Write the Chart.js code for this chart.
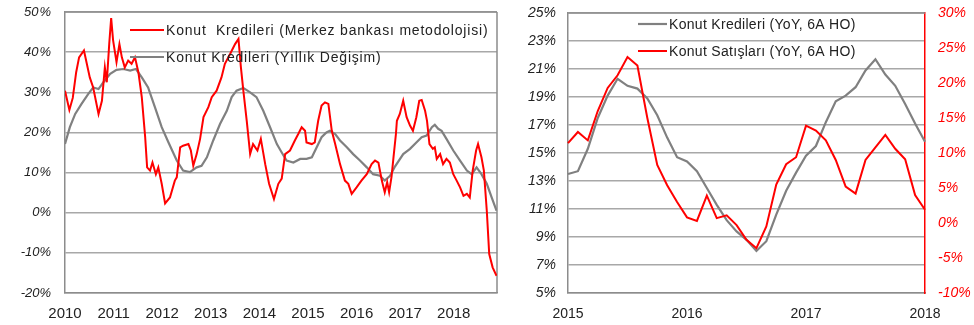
<!DOCTYPE html>
<html>
<head>
<meta charset="utf-8">
<script src="https://cdn.jsdelivr.net/npm/chart.js@4.4.0/dist/chart.umd.min.js"></script>
<style>
  body { margin: 0; background: #fff; }
  #left { position: absolute; left: 0; top: 0; }
  #right { position: absolute; left: 510px; top: 0; }
</style>
</head>
<body>
<canvas id="left" width="510" height="325"></canvas>
<canvas id="right" width="464" height="325"></canvas>
<script>
// left chart: weekly-ish red series and smoother gray series, x in decimal years
var leftYears = [2010, 2011, 2012, 2013, 2014, 2015, 2016, 2017, 2018];
var redDates = [2010.00,2010.09,2010.16,2010.23,2010.29,2010.39,2010.51,2010.58,2010.69,2010.76,
	2010.82,2010.86,2010.91,2010.95,2010.99,2011.06,2011.12,2011.17,2011.23,2011.30,
	2011.37,2011.44,2011.51,2011.58,2011.65,2011.69,2011.75,2011.80,2011.87,2011.92,
	2011.99,2012.06,2012.16,2012.26,2012.30,2012.37,2012.43,2012.54,2012.59,2012.64,
	2012.71,2012.78,2012.85,2012.95,2013.02,2013.12,2013.22,2013.29,2013.40,2013.50,
	2013.57,2013.62,2013.67,2013.74,2013.81,2013.87,2013.96,2014.03,2014.12,2014.20,
	2014.30,2014.39,2014.46,2014.53,2014.63,2014.73,2014.80,2014.87,2014.94,2014.97,
	2015.08,2015.14,2015.21,2015.28,2015.35,2015.42,2015.49,2015.56,2015.66,2015.76,
	2015.83,2015.90,2016.00,2016.10,2016.21,2016.31,2016.38,2016.45,2016.52,2016.58,
	2016.63,2016.67,2016.72,2016.76,2016.81,2016.83,2016.89,2016.96,2017.03,2017.10,
	2017.16,2017.23,2017.29,2017.34,2017.41,2017.45,2017.50,2017.57,2017.61,2017.65,
	2017.72,2017.78,2017.85,2017.92,2017.99,2018.06,2018.13,2018.20,2018.27,2018.33,
	2018.39,2018.46,2018.50,2018.57,2018.62,2018.68,2018.73,2018.80,2018.88];
var redValues = [30.4,25.6,28.6,35,38.7,40.4,33.7,31.2,24.6,27.9,
	36.2,32.5,42,48.5,42.9,37.5,42,38.7,36.2,37.9,
	37.1,38.7,35,28.8,18.8,11.3,10.5,12.5,9.6,11.3,
	7.2,2.3,3.8,8,8.8,16.3,16.7,17.1,15.5,11.7,
	14.6,18.4,23.8,26.3,28.8,30.4,33.7,37.1,39.6,42,
	43.3,36.2,30.4,22.9,14.6,17.1,15.5,18.4,12.1,7.2,
	3.4,7.2,8.5,14.6,15.5,18,19.6,21.3,20.4,17.5,
	17.1,17.5,22.9,26.7,27.5,27.1,20.4,17.1,12.1,8,
	7.2,4.7,6.3,8,9.6,12.1,13,12.5,8,5.1,
	7.6,5.1,9,13.8,19.6,22.9,24.6,27.9,23.8,21.7,
	20.4,23.8,27.9,28.1,25.4,22.9,17.1,15.9,16.3,13.4,
	14.6,12.1,13.4,12.5,9.6,8,6.3,4.2,4.7,3.8,
	10.5,15.5,17.1,13.8,10.5,0.5,-10.3,-13.6,-15.7];
var grayDates = [2010.00,2010.10,2010.21,2010.34,2010.48,2010.58,2010.69,2010.79,2010.93,2011.06,
	2011.20,2011.34,2011.46,2011.58,2011.71,2011.85,2011.99,2012.13,2012.30,2012.43,
	2012.57,2012.71,2012.81,2012.92,2013.05,2013.19,2013.33,2013.43,2013.53,2013.67,
	2013.81,2013.94,2014.08,2014.22,2014.36,2014.46,2014.56,2014.70,2014.84,2014.97,
	2015.08,2015.18,2015.28,2015.38,2015.45,2015.56,2015.66,2015.80,2015.93,2016.07,
	2016.21,2016.34,2016.48,2016.58,2016.69,2016.79,2016.96,2017.10,2017.23,2017.34,
	2017.44,2017.55,2017.61,2017.68,2017.75,2017.85,2017.99,2018.13,2018.27,2018.37,
	2018.47,2018.57,2018.68,2018.78,2018.88];
var grayValues = [17.1,21.3,24.6,27.1,29.6,31.2,30.8,32.5,34.6,35.6,
	35.8,35.4,35.8,33.7,31.2,26.3,21.3,17.5,13,10.5,
	10.1,11.3,11.7,13.8,18,22.1,25.4,28.8,30.4,31.1,
	30,28.8,25.4,21.3,17.1,15,13,12.5,13.4,13.4,
	13.8,16.3,18.8,20,20.4,19.6,18,16.3,14.6,13,
	11.3,9.6,9.2,8,9.2,11.5,14.6,15.9,17.5,18.8,
	19.2,21.3,21.9,20.9,20.4,18.4,15.5,13,10.5,9.6,
	11.3,9.6,7.2,3.8,0.5];

// right chart: monthly, Jan 2015 - Jan 2018
var rightYears = ['2015', '2016', '2017', '2018'];
var kredi6A = [13.5,13.7,15.3,17.5,19.1,20.3,19.8,19.6,18.9,17.7,
	16.1,14.7,14.4,13.7,12.5,11.3,10.2,9.4,8.8,8.0,
	8.7,10.6,12.3,13.6,14.8,15.5,17.2,18.7,19.1,19.7,
	20.9,21.7,20.6,19.8,18.5,17.1,15.8];
var satis6A = [11.4,13.0,11.8,16.0,19.3,21.1,23.7,22.5,15.0,8.3,
	5.4,3.0,0.8,0.3,3.9,0.7,1.1,-0.3,-2.4,-3.6,
	-0.5,5.5,8.4,9.4,13.9,13.2,11.8,9.0,5.2,4.2,
	9.0,10.8,12.6,10.6,9.1,4.0,1.9];

var months = [];
for (var y = 0; y < rightYears.length; y++) {
	var n = (y == rightYears.length - 1) ? 1 : 12;
	for (var m = 1; m <= n; m++) {
		months.push(rightYears[y] + '-' + (m < 10 ? '0' + m : m));
	}
}

function pts(xs, ys) {
	return xs.map(function(x, i) { return { x: x, y: ys[i] }; });
}

var FONT = 'Liberation Sans, Arial, sans-serif';
var GRID = '#a8a8a8';
var AXIS = '#8c8c8c';
var TXT = '#222';

// keep the plot box exactly where the layout padding puts it
function noPad(s) {
	s.paddingTop = 0;
	s.paddingBottom = 0;
	s.paddingLeft = 0;
	s.paddingRight = 0;
}

// legend drawn inside the plot area, line + text
var lineLegend = {
	id: 'lineLegend',
	afterDraw: function(chart, args, o) {
		var ctx = chart.ctx;
		ctx.save();
		ctx.font = o.size + 'px ' + FONT;
		ctx.letterSpacing = o.spacing;
		ctx.textBaseline = 'middle';
		ctx.fillStyle = TXT;
		chart.data.datasets.forEach(function(ds, i) {
			var yy = o.y + i * o.gap;
			ctx.strokeStyle = ds.borderColor;
			ctx.lineWidth = ds.borderWidth;
			ctx.beginPath();
			ctx.moveTo(o.x, yy);
			ctx.lineTo(o.x + o.len, yy);
			ctx.stroke();
			ctx.fillText(ds.label, o.x + o.len + 2, yy + 1);
		});
		ctx.restore();
	}
};

// top (and right) border of the plot box
var frame = {
	id: 'frame',
	beforeDatasetsDraw: function(chart, args, o) {
		var a = chart.chartArea, ctx = chart.ctx;
		ctx.save();
		ctx.strokeStyle = AXIS;
		ctx.lineWidth = 1.5;
		ctx.beginPath();
		ctx.moveTo(a.left, a.top);
		ctx.lineTo(a.right, a.top);
		if (o.right) {
			ctx.moveTo(a.right, a.top);
			ctx.lineTo(a.right, a.bottom);
		}
		ctx.stroke();
		ctx.restore();
	}
};

new Chart(document.getElementById('left'), {
	type: 'line',
	data: {
		datasets: [{
			label: 'Konut  Kredileri (Merkez bankası metodolojisi)',
			data: pts(redDates, redValues),
			borderColor: '#ff0000',
			borderWidth: 2,
			pointRadius: 0,
			tension: 0
		}, {
			label: 'Konut Kredileri (Yıllık Değişim)',
			data: pts(grayDates, grayValues),
			borderColor: '#808080',
			borderWidth: 2.2,
			pointRadius: 0,
			tension: 0
		}]
	},
	options: {
		responsive: false,
		animation: false,
		layout: { padding: { top: 12, right: 13, left: 0, bottom: 0 } },
		plugins: {
			legend: { display: false },
			tooltip: { enabled: false },
			lineLegend: { x: 130, y: 30, gap: 27, len: 34, size: 14, spacing: '0.8px' },
			frame: { right: true }
		},
		scales: {
			x: {
				type: 'linear',
				min: 2010,
				max: 2018.89,
				afterBuildTicks: function(s) { s.ticks = leftYears.map(function(v) { return { value: v }; }); },
				afterFit: function(s) { s.height = 32; noPad(s); },
				grid: { display: false, drawTicks: false },
				border: { color: AXIS, width: 1.5 },
				ticks: { color: TXT, padding: 12, font: { family: FONT, size: 15 }, callback: function(v) { return String(v); } }
			},
			y: {
				min: -20,
				max: 50,
				afterFit: function(s) { s.width = 65; noPad(s); },
				grid: { color: GRID, lineWidth: 1.5, drawTicks: false },
				border: { color: AXIS, width: 1.5 },
				ticks: {
					stepSize: 10,
					color: TXT,
					padding: 14,
					font: { family: FONT, size: 13, style: 'italic' },
					callback: function(v) { return v >= 10 ? v + '\u200a%' : v + '%'; }
				}
			}
		}
	},
	plugins: [lineLegend, frame]
});

new Chart(document.getElementById('right'), {
	type: 'line',
	data: {
		labels: months,
		datasets: [{
			label: 'Konut Kredileri (YoY, 6A HO)',
			data: kredi6A,
			yAxisID: 'y',
			borderColor: '#808080',
			borderWidth: 2.2,
			pointRadius: 0,
			tension: 0,
			order: 1
		}, {
			label: 'Konut Satışları (YoY, 6A HO)',
			data: satis6A,
			yAxisID: 'y1',
			borderColor: '#ff0000',
			borderWidth: 2,
			pointRadius: 0,
			tension: 0,
			order: 0
		}]
	},
	options: {
		responsive: false,
		animation: false,
		layout: { padding: { top: 13, right: 0, left: 0, bottom: 0 } },
		plugins: {
			legend: { display: false },
			tooltip: { enabled: false },
			lineLegend: { x: 128, y: 24, gap: 27, len: 29, size: 14, spacing: '0.3px' },
			frame: { right: false }
		},
		scales: {
			x: {
				afterFit: function(s) { s.height = 32; noPad(s); },
				grid: { display: false, drawTicks: false },
				border: { color: AXIS, width: 1.5 },
				ticks: {
					autoSkip: false,
					maxRotation: 0,
					color: TXT,
					padding: 13,
					font: { family: FONT, size: 14 },
					callback: function(v, i) {
						var l = months[i];
						return l.slice(5) == '01' ? l.slice(0, 4) : '';
					}
				}
			},
			y: {
				position: 'left',
				min: 5,
				max: 25,
				afterFit: function(s) { s.width = 58; noPad(s); },
				grid: { color: GRID, lineWidth: 1.5, drawTicks: false },
				border: { color: AXIS, width: 1.5 },
				ticks: {
					stepSize: 2,
					color: TXT,
					padding: 12,
					font: { family: FONT, size: 14, style: 'italic' },
					callback: function(v) { return v + '%'; }
				}
			},
			y1: {
				position: 'right',
				min: -10,
				max: 30,
				afterFit: function(s) { s.width = 49; noPad(s); },
				grid: { display: false, drawTicks: false },
				border: { color: '#ff0000', width: 1.5 },
				ticks: {
					stepSize: 5,
					color: '#ff0000',
					padding: 13,
					font: { family: FONT, size: 14, style: 'italic' },
					callback: function(v) { return v + '%'; }
				}
			}
		}
	},
	plugins: [lineLegend, frame]
});
</script>
</body>
</html>
